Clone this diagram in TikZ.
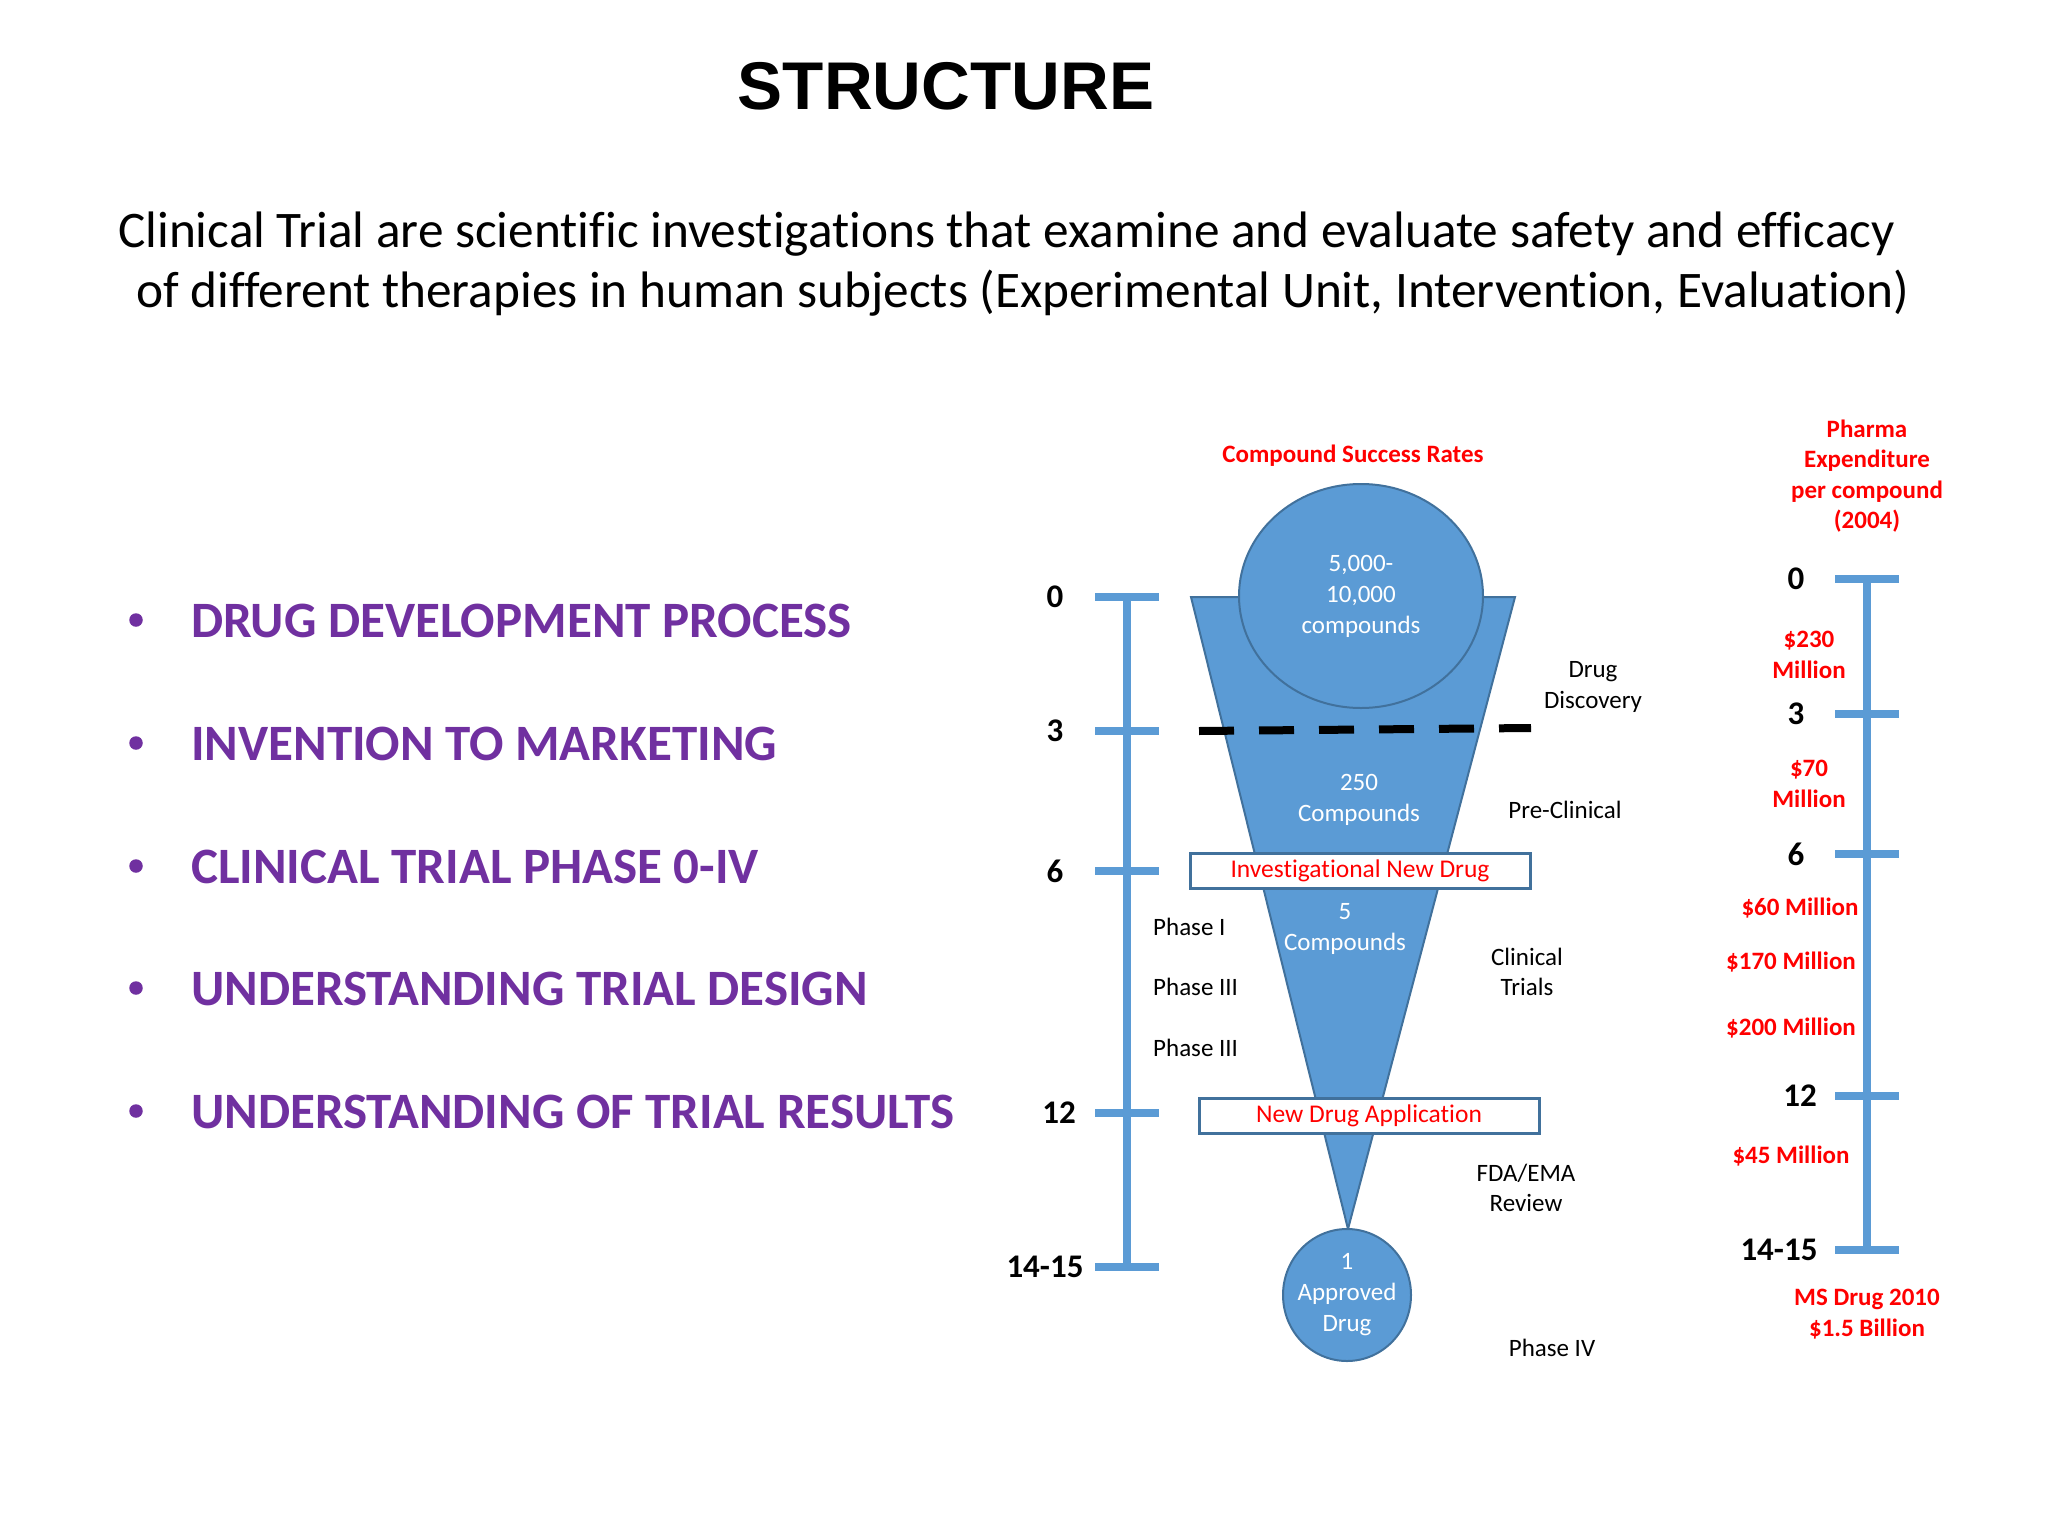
\documentclass[tikz,border=0pt]{standalone}
\usepackage{fontspec}
\setmainfont{Carlito}[Ligatures=NoCommon]
\newfontfamily\headfont{Liberation Sans}
\usetikzlibrary{shapes.geometric, positioning}
\definecolor{funnelblue}{HTML}{5B9BD5}
\definecolor{funnelline}{HTML}{41719C}
\definecolor{bulletpurple}{HTML}{7030A0}
\definecolor{costred}{HTML}{FF0000}

\begin{document}
\begin{tikzpicture}[x=1pt, y=-1pt, inner sep=0pt,
    tlline/.style={draw=funnelblue, line width=8pt},
    yearlab/.style={font=\bfseries\fontsize{33}{36}\selectfont},
    costlab/.style={text=costred, align=center, font=\bfseries\fontsize{25}{30.5}\selectfont},
    darklab/.style={align=center, font=\fontsize{25}{30.5}\selectfont},
    whitelab/.style={darklab, text=white, font=\fontsize{25}{31}\selectfont},
    phaselab/.style={darklab, text height=18pt, text depth=5pt},
    blob/.style={ellipse, fill=funnelblue, draw=funnelline, line width=2pt},
    stagebox/.style={rectangle, draw=funnelline, fill=white, line width=3pt, minimum width=340pt, minimum height=35pt, text=costred, font=\fontsize{25.5}{30}\selectfont},
    bullettext/.style={text=bulletpurple, font=\bfseries\fontsize{51}{60}\selectfont},
    bulletdot/.style={circle, fill=bulletpurple, minimum size=13.5pt},
    subtext/.style={font=\fontsize{51.3}{60}\selectfont}]
  \useasboundingbox (0,0) rectangle (2048,1536);

  \node[font=\headfont\bfseries\fontsize{67.5}{80}\selectfont, anchor=base] (title) at (946,110) {STRUCTURE};
  \node[subtext, anchor=base west] (defA) at (118,247) {Clinical Trial are scientific investigations that examine and evaluate safety and efficacy};
  \node[subtext, anchor=base west] (defB) at (136,307) {of different therapies in human subjects (Experimental Unit, Intervention, Evaluation)};

  \foreach \y/\txt [count=\i] in {637/DRUG DEVELOPMENT PROCESS, 760/INVENTION TO MARKETING, 883/CLINICAL TRIAL PHASE 0-IV, 1005/UNDERSTANDING TRIAL DESIGN, 1128/UNDERSTANDING OF TRIAL RESULTS}{
    \node[bulletdot] (dot\i) at (136,\y-17) {};
    \node[bullettext, anchor=base west] (item\i) at (191,\y) {\txt};
  }

  \foreach \y/\lx/\lab [count=\i] in {597/1055/0, 731/1055/3, 871/1055/6, 1113/1059/12, 1267/1045/14-15}{
    \coordinate (lt\i) at (1127,\y);
    \draw[tlline] ([xshift=-32pt]lt\i) -- ([xshift=32pt]lt\i);
    \node[yearlab] (ly\i) at (\lx,\y) {\lab};
  }
  \draw[tlline] (lt1) -- (lt5);

  \foreach \y/\lx/\lab [count=\i] in {579/1796/0, 714/1796/3, 854/1796/6, 1096/1800/12, 1250/1779/14-15}{
    \coordinate (rt\i) at (1867,\y);
    \draw[tlline] ([xshift=-32pt]rt\i) -- ([xshift=32pt]rt\i);
    \node[yearlab] (ry\i) at (\lx,\y) {\lab};
  }
  \draw[tlline] (rt1) -- (rt5);

  \coordinate (ftl) at (1191,597);
  \coordinate (ftr) at (1515,597);
  \coordinate (fapex) at (1348,1229);
  \filldraw[fill=funnelblue, draw=funnelline, line width=2pt] (ftl) -- (ftr) -- (fapex) -- cycle;

  \node[blob, minimum width=244pt, minimum height=224pt] (pool) at (1361,596) {};
  \node[whitelab] (pooltext) at (pool) {5,000-\\10,000\\compounds};
  \coordinate (dashL) at (1199,731);
  \coordinate (dashR) at (1531,728);
  \draw[black, line width=8pt, dash pattern=on 35pt off 25pt] (dashL) -- (dashR);
  \node[whitelab] (preclin) at (1359,800) {250\\Compounds};
  \node[stagebox] (ind) at (1360,870.5) {Investigational New Drug};
  \node[whitelab] (trialset) at (1345,929) {5\\Compounds};
  \node[stagebox] (nda) at (1369,1115.5) {New Drug Application};
  \node[blob, minimum width=128pt, minimum height=132pt] (approved) at (1347,1295) {};
  \node[whitelab] (approvedtext) at (approved) {1\\Approved\\Drug};

  \node[costlab] (rateshead) at (1353,456) {Compound Success Rates};
  \node[costlab] (costhead) at (1867,476) {Pharma\\Expenditure\\per compound\\(2004)};

  \node[darklab] (disc) at (1593,687) {Drug\\Discovery};
  \node[darklab] (preclinlab) at (1565,810) {Pre-Clinical};
  \node[phaselab, anchor=west] (phaseA) at (1153,929) {Phase I};
  \node[phaselab, below=37pt of phaseA.south west, anchor=north west] (phaseB) {Phase III};
  \node[phaselab, below=37pt of phaseB.south west, anchor=north west] (phaseC) {Phase III};
  \node[darklab] (trials) at (1527,972) {Clinical\\Trials};
  \node[darklab] (review) at (1526,1188) {FDA/EMA\\Review};
  \node[darklab] (phaseD) at (1552,1348) {Phase IV};

  \node[costlab] (cost1) at (1809,655) {\$230\\Million};
  \node[costlab] (cost2) at (1809,784) {\$70\\Million};
  \node[costlab] (cost3) at (1800,908) {\$60 Million};
  \node[costlab] (cost4) at (1791,962) {\$170 Million};
  \node[costlab] (cost5) at (1791,1028) {\$200 Million};
  \node[costlab] (cost6) at (1791,1156) {\$45 Million};
  \node[costlab] (cost7) at (1867,1314) {MS Drug 2010\\\$1.5 Billion};
\end{tikzpicture}
\end{document}
